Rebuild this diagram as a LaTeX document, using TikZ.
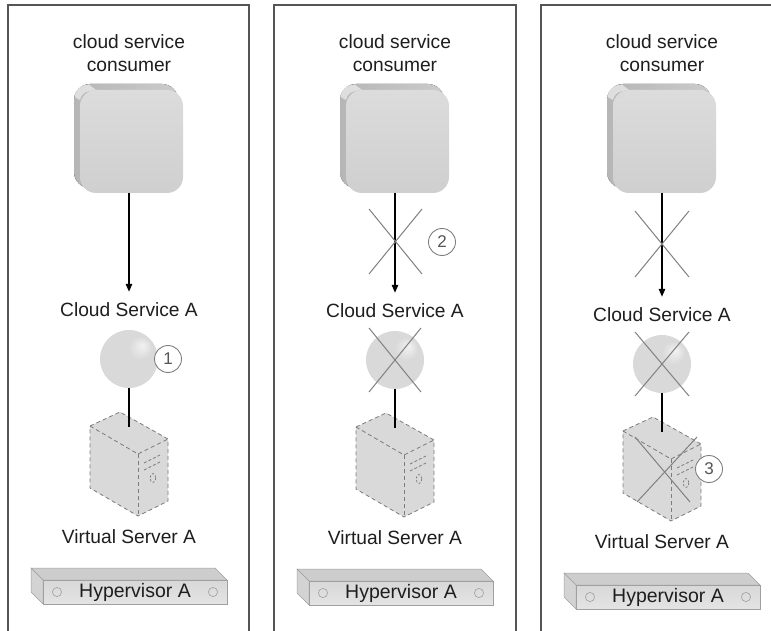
\documentclass[tikz,border=0pt]{standalone}
\usepackage{fontspec}
\setmainfont{Liberation Sans}
\usetikzlibrary{arrows.meta,calc}

\definecolor{framecol}{HTML}{555555}
\definecolor{txtcol}{HTML}{1E1E1E}
\definecolor{xcol}{HTML}{808080}
\definecolor{numtxt}{HTML}{555555}
\definecolor{sphA}{HTML}{F2F2F2}
\definecolor{sphB}{HTML}{D9D9D9}
\definecolor{sphC}{HTML}{CBCBCB}
\definecolor{consTop}{HTML}{DCDCDC}
\definecolor{consBot}{HTML}{CFCFCF}
\definecolor{consBackL}{HTML}{B6B6B6}
\definecolor{consBackR}{HTML}{CBCBCB}
\definecolor{srvfill}{HTML}{D9D9D9}
\definecolor{srvline}{HTML}{7C7C7C}
\definecolor{hypTop}{HTML}{CDCDCD}
\definecolor{hypLeft}{HTML}{D3D3D3}
\definecolor{hypFrontA}{HTML}{D8D8D8}
\definecolor{hypFrontB}{HTML}{E4E4E4}
\definecolor{hypline}{HTML}{A0A0A0}

\pgfdeclareradialshading{sphereshade}{\pgfpoint{12bp}{12bp}}{%
  color(0bp)=(sphA); color(10bp)=(sphB); color(30bp)=(sphB); color(50bp)=(sphC)}

\tikzset{
  lbl/.style={text=txtcol, font=\fontsize{19.2}{22}\selectfont, inner sep=0pt},
  hyplbl/.style={text=txtcol, font=\fontsize{19.5}{22}\selectfont},
  panelframe/.style={draw=framecol, line width=1.3pt},
  consfront/.style={rectangle, rounded corners=16pt, minimum width=103pt,
    minimum height=103pt, inner sep=0pt, top color=consTop, bottom color=consBot},
  svcball/.style={circle, minimum size=58pt, inner sep=0pt, shading=sphereshade},
  arr/.style={line width=1.4pt, -{Triangle[length=8pt,width=6.5pt]}},
  link/.style={line width=2pt},
  srvedge/.style={draw=srvline, line width=0.8pt, dash pattern=on 4pt off 3pt},
  hypfront/.style={rectangle, minimum width=184pt, minimum height=24pt, inner sep=0pt,
    draw=hypline, line width=0.5pt, top color=hypFrontA, bottom color=hypFrontB},
  xmark/.style={draw=xcol, line width=1pt},
  numc/.style={circle, draw=xcol, line width=0.9pt, fill=white, minimum size=27pt,
    inner sep=0pt, text=numtxt, font=\fontsize{17}{18}\selectfont},
}

% one panel: #1 name prefix, #2 centre x, #3 vertical shift of the lower part
\newcommand\cloudpanel[3]{%
  \begin{scope}[shift={(#2,0)}]
    \node[lbl, align=center] (#1-ctext) at (0,53) {cloud service\\[1pt]consumer};
    \fill[rounded corners=16pt, left color=consBackL, right color=consBackR]
      (-55,84) rectangle (49,188);
    \fill[white, opacity=0.55] (-40,84.6) .. controls (-50,85) and (-54,90) .. (-54.5,97)
      -- (-49,100) .. controls (-48,94) and (-44,91) .. (-33,90) -- cycle;
    \node[consfront] (#1-cons) at (2.5,141.5) {};
    \begin{scope}[shift={(0,#3)}]
      \node[lbl] (#1-cs) at (0,310) {Cloud Service A};
      \draw[arr, shorten >=11pt] (#1-cs.north |- #1-cons.south) -- (#1-cs.north);
      \node[svcball] (#1-svc) at (0,359) {};
      \coordinate (#1-srv) at (0,427);
      % virtual server
      \fill[srvfill] (-39,426) -- (-9,412) -- (39,439) -- (39,501) -- (9,516) -- (-39,488) -- cycle;
      \path[srvedge] (-39,426) -- (-9,412) -- (39,439) -- (39,501) -- (9,516) -- (-39,488) -- cycle;
      \path[srvedge] (-39,426) -- (9,454) -- (39,439);
      \path[srvedge] (9,454) -- (9,516);
      \path[srvedge, dash pattern=on 3pt off 2pt] (15,463) -- (31,455);
      \path[srvedge, dash pattern=on 3pt off 2pt] (15,470) -- (31,462);
      \path[srvedge, dash pattern=on 2pt off 2pt] (24,478) ellipse [x radius=2.8, y radius=4.5];
      \draw[link] (#1-svc.south) -- (#1-srv);
      \node[lbl] (#1-vs) at (0,537) {Virtual Server A};
      % hypervisor
      \filldraw[fill=hypTop, draw=hypline, line width=0.5pt]
        (-98,568) -- (86,568) -- (98,580) -- (-86,580) -- cycle;
      \filldraw[fill=hypLeft, draw=hypline, line width=0.5pt]
        (-98,568) -- (-86,580) -- (-86,604) -- (-98,592) -- cycle;
      \node[hypfront] (#1-hyp) at (6,592) {};
      \node[hyplbl] (#1-hyptext) at (#1-hyp) {Hypervisor A};
      \draw[hypline, line width=0.6pt] (-72,592) circle [radius=4.6];
      \draw[hypline, line width=0.6pt] (84,592) circle [radius=4.6];
    \end{scope}
  \end{scope}%
}

\begin{document}
\begin{tikzpicture}[x=1pt, y=-1pt]
  \useasboundingbox (0,0) rectangle (771,631);
  \fill[white] (0,0) rectangle (771,631);

  % panel frames, open at the bottom
  \draw[panelframe] (8,632) -- (8,5) -- (249,5) -- (249,632);
  \draw[panelframe] (274,632) -- (274,5) -- (516,5) -- (516,632);
  \draw[panelframe] (541,632) -- (541,5) -- (772,5);

  \cloudpanel{a}{129}{0}
  \cloudpanel{b}{395}{1}
  \cloudpanel{c}{662}{5}

  % failure marks
  \path[xmark] (369,209) -- (422,274) (422,209) -- (369,274);
  \path[xmark, shift={(b-svc.center)}] (-26,-32) -- (26,32) (26,-32) -- (-26,32);
  \path[xmark] (635,211) -- (689,277) (689,211) -- (635,277);
  \path[xmark, shift={(c-svc.center)}] (-27,-32) -- (27,32) (27,-32) -- (-27,32);
  \path[xmark] (635,437) -- (690,502) (697,437) -- (637,502);

  % numbered callouts
  \node[numc] (n1) at (168,359) {1};
  \node[numc] (n2) at (442,242) {2};
  \node[numc] (n3) at (709,469) {3};
\end{tikzpicture}
\end{document}
